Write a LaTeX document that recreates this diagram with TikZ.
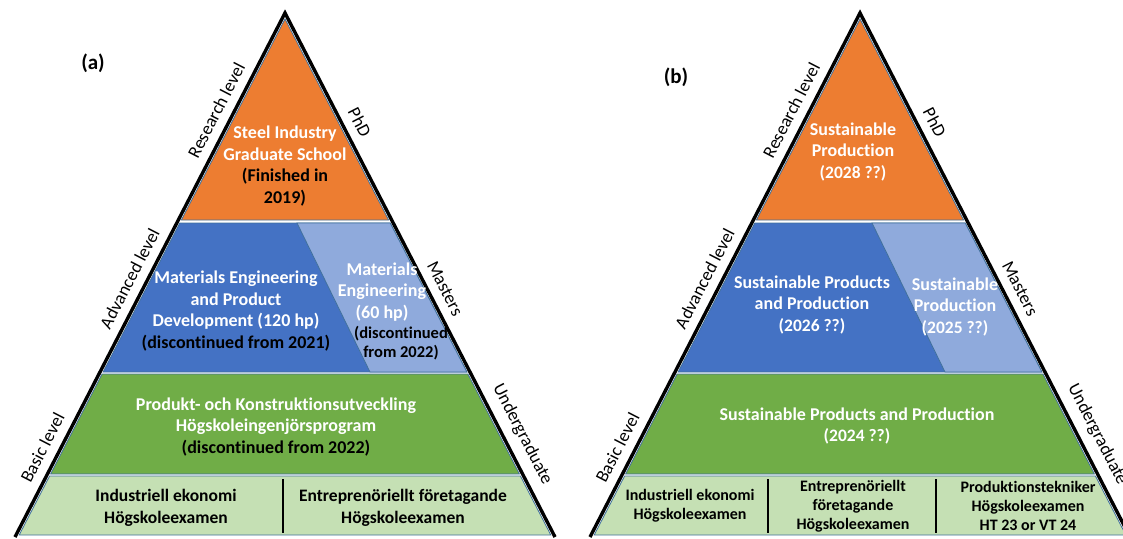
\documentclass[tikz,border=0pt]{standalone}
\usepackage{fontspec}
\setmainfont[Ligatures={NoCommon}]{Carlito}
\definecolor{orangeband}{HTML}{ED7D31}
\definecolor{blueband}{HTML}{4472C4}
\definecolor{lightblueband}{HTML}{8FAADC}
\definecolor{greenband}{HTML}{70AD47}
\definecolor{paleband}{HTML}{C5E0B4}
\definecolor{bandline}{HTML}{41719C}
\newcommand{\minor}[1]{{\fontsize{17.5}{21.7}\selectfont #1}}
\begin{document}
\begin{tikzpicture}
                [x=1pt, y=-1pt,
                 band/.style={draw=bandline, line width=0.8pt},
                 side/.style={draw=black, line width=3.4pt, line join=miter},
                 level/.style={sloped, above=9pt, inner sep=1pt, font=\fontsize{18}{20}\selectfont},
                 title/.style={align=center, text=white, inner sep=0pt, font=\bfseries\fontsize{18}{21.7}\selectfont},
                 note/.style={align=center, text=black, inner sep=0pt, font=\bfseries\fontsize{16.5}{19}\selectfont},
                 exam/.style={align=center, text=black, inner sep=0pt, font=\bfseries\fontsize{17.5}{22}\selectfont},
                 smallexam/.style={align=center, text=black, inner sep=0pt, font=\bfseries\fontsize{16}{19}\selectfont},
                 divider/.style={draw=black, line width=2.4pt}]
                \useasboundingbox (0,0) rectangle (1123,538);
                % Define pyramids
                \foreach \ax/\nm in {285/L, 860/R}{
                  \begin{scope}[shift={(\ax,13)}]
                    \draw[band, fill=orangeband] (0,6) -- (103.6,207) -- (-103.6,207) -- cycle;
                    \draw[band, fill=blueband] (-105.2,210) -- (105.2,210) -- (181.9,359) -- (-181.9,359) -- cycle;
                    \draw[band, fill=lightblueband] (12,210) -- (105.2,210) -- (181.9,359) -- (85,359) -- cycle;
                    \draw[band, fill=greenband] (-182.9,361) -- (182.9,361) -- (234.4,461) -- (-234.4,461) -- cycle;
                    \draw[band, fill=paleband] (-235.4,463) -- (235.4,463) -- (265.8,522) -- (-265.8,522) -- cycle;
                    \coordinate (\nm apex) at (0,0);
                    \coordinate (\nm left) at (-270,524);
                    \coordinate (\nm right) at (270,524);
                  \end{scope}
                  \draw[side] (\nm left) -- (\nm apex) -- (\nm right);
                  \path (\nm left) -- (\nm apex)
                    node[level, pos=0.156] (\nm basic) {Basic level}
                    node[level, pos=0.479] (\nm advanced) {Advanced level}
                    node[level, pos=0.80] (\nm research) {Research level};
                  \path (\nm apex) -- (\nm right)
                    node[level, pos=0.223] (\nm phd) {PhD}
                    node[level, pos=0.54] (\nm masters) {Masters}
                    node[level, pos=0.82] (\nm under) {Undergraduate};
                }
                % Define dividers
                \coordinate (a1) at (283,479); \coordinate (a2) at (283,533);
                \coordinate (b1) at (768,479); \coordinate (b2) at (768,533);
                \coordinate (c1) at (936,479); \coordinate (c2) at (936,533);
                \draw[divider] (a1) -- (a2);
                \draw[divider] (b1) -- (b2);
                \draw[divider] (c1) -- (c2);
                % Define nodes (a)
                \node[font=\bfseries\fontsize{21}{24}\selectfont] (tag a) at (93,63) {(a)};
                \node[title] (steel) at (285,166) {Steel Industry\\Graduate School\\\textcolor{black}{(Finished in}\\\textcolor{black}{2019)}};
                \node[title] (mepd) at (236,311) {Materials Engineering\\and Product\\Development (120 hp)\\\textcolor{black}{(discontinued from 2021)}};
                \node[title] (me) at (382,292) {Materials\\Engineering\\(60 hp)};
                \node[note] (me end) at (401,343) {(discontinued\\from 2022)};
                \node[title] (pku) at (276,427) {Produkt- och Konstruktionsutveckling\\Högskoleingenjörsprogram\\\textcolor{black}{(discontinued from 2022)}};
                \node[exam] (ie a) at (166,508) {Industriell ekonomi\\Högskoleexamen};
                \node[exam] (ef a) at (403,508) {Entreprenöriellt företagande\\Högskoleexamen};
                % Define nodes (b)
                \node[font=\bfseries\fontsize{21}{24}\selectfont] (tag b) at (676,77) {(b)};
                \node[title] (sp) at (853,152) {Sustainable\\Production\\\minor{(2028 ??)}};
                \node[title] (spp) at (812,305) {Sustainable Products\\and Production\\\minor{(2026 ??)}};
                \node[title] (sp ms) at (955,307) {Sustainable\\Production\\\minor{(2025 ??)}};
                \node[title] (spp ug) at (857,426) {Sustainable Products and Production\\\minor{(2024 ??)}};
                \node[smallexam] (ie b) at (690,506) {Industriell ekonomi\\Högskoleexamen};
                \node[smallexam] (ef b) at (853,506) {Entreprenöriellt\\företagande\\Högskoleexamen};
                \node[smallexam] (pt b) at (1028,506) {Produktionstekniker\\Högskoleexamen\\HT 23 or VT 24};
            \end{tikzpicture}
\end{document}
